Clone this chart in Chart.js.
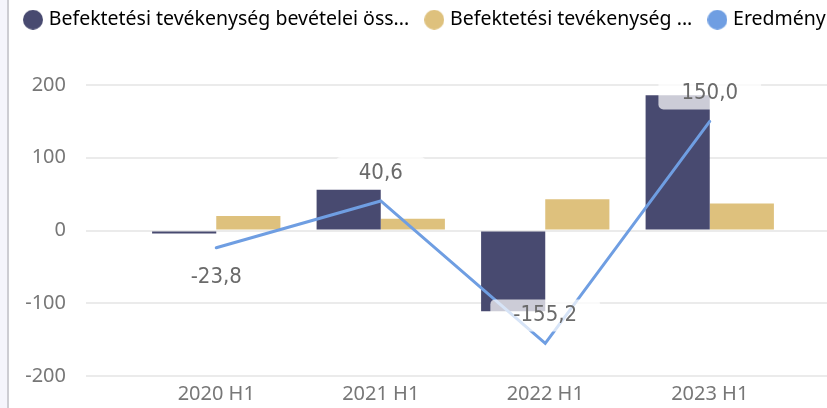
<!DOCTYPE html>
<html>
<head>
<meta charset="utf-8">
<script src="https://cdn.jsdelivr.net/npm/chart.js@4.4.0/dist/chart.umd.min.js"></script>
<style>
    html, body { margin: 0; padding: 0; background: #fff; }
    #wrap { position: relative; width: 827px; height: 408px; }
    #side { position: absolute; left: 0; top: 0; width: 7px; height: 408px; background: #f5f5fc; border-right: 2px solid #cdcdd3; }
</style>
</head>
<body>
<div id="wrap">
    <canvas id="chart" width="827" height="408"></canvas>
    <div id="side"></div>
</div>
<script>
var periods = ['2020 H1', '2021 H1', '2022 H1', '2023 H1']
var bevetelek = [-4, 56, -111, 186]
var kiadasok = [20, 16, 43, 37]
var eredmeny = [-23.8, 40.6, -155.2, 150.0]
var legendNames = ['Befektetési tevékenység bevételei öss...', 'Befektetési tevékenység ...', 'Eredmény']
var labelSide = ['below', 'above', 'above', 'above']

var colors = ['#484a70', '#dec17d', '#6f9ee2']

function dot(color) {
    var c = document.createElement('canvas')
    c.width = 20
    c.height = 20
    var g = c.getContext('2d')
    g.fillStyle = color
    g.beginPath()
    g.arc(10, 10, 10, 0, Math.PI * 2)
    g.fill()
    return c
}
var dots = colors.map(dot)

// data labels for the Eredmény line
var valueLabels = {
    id: 'valueLabels',
    afterDatasetsDraw: function(chart) {
        var ctx = chart.ctx
        var meta = chart.getDatasetMeta(2)
        ctx.save()
        ctx.font = '22px "DejaVu Sans Condensed", "DejaVu Sans", sans-serif'
        ctx.textAlign = 'center'
        ctx.textBaseline = 'middle'
        meta.data.forEach(function(pt, i) {
            var txt = eredmeny[i].toFixed(1).replace('.', ',')
            var y = pt.y + (labelSide[i] == 'below' ? 29 : -28)
            var w = ctx.measureText(txt).width + 46
            ctx.fillStyle = 'rgba(255,255,255,0.72)'
            ctx.beginPath()
            ctx.roundRect(pt.x - w / 2, y - 16, w, 32, 5)
            ctx.fill()
            ctx.fillStyle = '#6a6a6a'
            ctx.fillText(txt, pt.x, y)
        })
        ctx.restore()
    }
}

var axisFont = { family: 'Noto Sans', size: 20 }

var chart = new Chart(document.getElementById('chart'), {
    type: 'bar',
    data: {
        labels: periods,
        datasets: [{
            label: legendNames[0],
            data: bevetelek,
            backgroundColor: colors[0],
            categoryPercentage: 0.78,
            barPercentage: 1,
            order: 2
        }, {
            label: legendNames[1],
            data: kiadasok,
            backgroundColor: colors[1],
            categoryPercentage: 0.78,
            barPercentage: 1,
            order: 2
        }, {
            type: 'line',
            label: legendNames[2],
            data: eredmeny,
            borderColor: colors[2],
            backgroundColor: colors[2],
            borderWidth: 3,
            borderCapStyle: 'round',
            pointRadius: 0,
            tension: 0,
            fill: false,
            order: 0
        }]
    },
    options: {
        responsive: false,
        animation: false,
        layout: { padding: { top: -9, left: 8, right: -30, bottom: -4 } },
        plugins: {
            tooltip: { enabled: false },
            legend: {
                position: 'top',
                align: 'start',
                weight: 3000,
                labels: {
                    usePointStyle: true,
                    pointStyleWidth: 12,
                    boxHeight: 19.5,
                    padding: 19,
                    color: '#2b2d4e',
                    font: { family: 'Noto Sans', size: 19.5 },
                    generateLabels: function(chart) {
                        return chart.data.datasets.map(function(ds, i) {
                            return {
                                text: legendNames[i],
                                pointStyle: dots[i],
                                fillStyle: colors[i],
                                strokeStyle: colors[i],
                                lineWidth: 0,
                                hidden: false,
                                datasetIndex: i
                            }
                        })
                    }
                }
            },
            title: {
                display: true,
                text: '',
                font: { size: 10, lineHeight: 1 },
                padding: { top: 0, bottom: 35.5 }
            }
        },
        scales: {
            x: {
                grid: { display: false, drawTicks: false },
                border: { display: false },
                ticks: { color: '#777', font: axisFont, padding: 6, maxRotation: 0 }
            },
            y: {
                min: -200,
                max: 200,
                afterFit: function(s) { s.width = 126 },
                ticks: { stepSize: 100, padding: 20, color: '#777', font: axisFont },
                grid: { color: '#ebebeb', lineWidth: 2, tickLength: 48 },
                border: { display: false }
            },
            y2: {
                position: 'right',
                min: -200,
                max: 200,
                afterFit: function(s) { s.width = 65 },
                ticks: { display: false, stepSize: 100 },
                grid: { drawOnChartArea: false, color: '#ebebeb', lineWidth: 2, tickLength: 65 },
                border: { display: false }
            }
        }
    },
    plugins: [valueLabels]
})
</script>
</body>
</html>
